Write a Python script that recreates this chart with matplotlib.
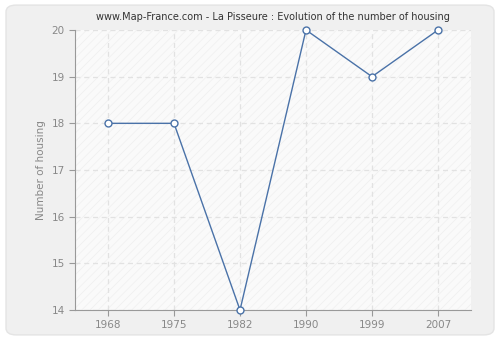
import numpy as np
import matplotlib
matplotlib.use("Agg")
import matplotlib.pyplot as plt
from matplotlib.patches import FancyBboxPatch

years = ["1968", "1975", "1982", "1990", "1999", "2007"]
housing = [18, 18, 14, 20, 19, 20]
yticks = [14, 15, 16, 17, 18, 19, 20]

fig = plt.figure(figsize=(5, 3.4), dpi=100)
fig.patch.set_facecolor("white")
# outer rounded panel, behind the axes
panel = FancyBboxPatch((0.012, 0.015), 0.976, 0.97,
                       boxstyle="round,pad=0,rounding_size=0.02",
                       transform=fig.transFigure, facecolor="#f0f0f0",
                       edgecolor="#e4e4e4", linewidth=1.0, zorder=-10)
fig.add_artist(panel)

ax = fig.add_axes([0.15, 0.0882, 0.792, 0.8236])
ax.set_facecolor("#fafafa")
# hatch background
plt.rcParams["hatch.linewidth"] = 0.5
ax.fill_between([-0.5, 5.5], 14, 20, facecolor="none", edgecolor="#efefef",
                hatch="////", linewidth=0, zorder=0)

x = np.arange(len(years))
ax.plot(x, housing, color="#4a72a8", linewidth=1.0, marker="o",
        markersize=5, markerfacecolor="white", markeredgecolor="#4a72a8",
        markeredgewidth=1.0, zorder=3, clip_on=False)

ax.set_xlim(-0.5, 5.5)
ax.set_ylim(14, 20)
ax.set_xticks(x)
ax.set_xticklabels(years)
ax.set_yticks(yticks)
ax.grid(True, color="#e2e2e2", linestyle=(0, (4, 3)), linewidth=0.9)
ax.set_axisbelow(True)

for s in ["top", "right"]:
    ax.spines[s].set_visible(False)
for s in ["left", "bottom"]:
    ax.spines[s].set_color("#999999")
ax.tick_params(colors="#999999", labelcolor="#888888", labelsize=7.5,
               length=4, direction="out")
ax.set_ylabel("Number of housing", color="#888888", fontsize=7.5)
ax.set_title("www.Map-France.com - La Pisseure : Evolution of the number of housing",
             fontsize=7, color="#333333", pad=7)

fig.savefig("out.png", dpi=100)
